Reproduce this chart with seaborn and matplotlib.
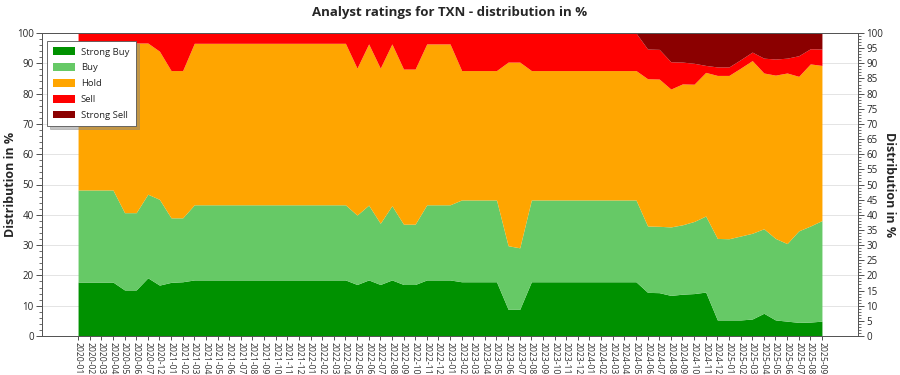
import numpy as np
import pandas as pd
import matplotlib
matplotlib.use("Agg")
import matplotlib.pyplot as plt
from matplotlib.ticker import MultipleLocator
import seaborn as sns

months = (["2020-01", "2020-02", "2020-03", "2020-04", "2020-05", "2020-06", "2020-07", "2020-12"]
          + [f"{y}-{m:02d}" for y in (2021, 2022, 2023, 2024) for m in range(1, 13)]
          + [f"2025-{m:02d}" for m in range(1, 10)])

strong_buy = ([17.8] * 4 + [15.2, 15.2, 19.2, 16.8, 17.7, 17.9] + [18.5] * 14
              + [17.0, 18.5, 17.0, 18.5, 17.0, 17.0, 18.5, 18.5, 18.5]
              + [17.9] * 4 + [8.8, 8.8] + [17.9] * 10
              + [14.4, 14.3, 13.4, 13.8, 14.0, 14.5, 5.3, 5.3, 5.3, 5.6, 7.5, 5.3, 4.9, 4.5, 4.6, 4.9])
buy = ([30.4] * 4 + [25.5, 25.5, 27.6, 28.3, 21.3, 21.1] + [24.8] * 14
       + [22.9, 24.7, 20.2, 24.5, 19.9, 19.9, 24.8, 24.8, 24.8]
       + [27.0] * 4 + [21.0, 20.3] + [27.0] * 10
       + [21.9, 21.9, 22.6, 22.9, 23.8, 25.1, 26.9, 26.8, 27.7, 28.3, 27.9, 26.9, 25.6, 30.2, 31.7, 33.2])
hold = ([48.5] * 4 + [56.0, 56.0, 49.9, 48.9, 48.6, 48.6] + [53.3] * 14
        + [48.5, 53.2, 51.2, 53.4, 51.2, 51.2, 53.1, 53.1, 53.1]
        + [42.7] * 4 + [60.6, 61.3] + [42.7] * 10
        + [48.6, 48.6, 45.5, 46.5, 45.3, 47.4, 53.8, 53.9, 55.4, 57.0, 51.4, 53.9, 56.3, 51.0, 53.5, 51.2])
sell = ([3.3] * 4 + [3.3, 3.3, 3.3, 6.0, 12.4, 12.4] + [3.4] * 14
        + [11.6, 3.6, 11.6, 3.6, 11.9, 11.9, 3.6, 3.6, 3.6]
        + [12.4] * 4 + [9.6, 9.6] + [12.4] * 10
        + [9.8, 9.8, 9.0, 7.2, 6.9, 2.3, 2.8, 2.8, 2.8, 2.8, 4.9, 5.3, 4.9, 6.8, 5.0, 5.4])
strong_sell = ([0.0] * 49
               + [5.3, 5.4, 9.5, 9.6, 10.0, 10.7, 11.2, 11.2, 8.8, 6.3, 8.3, 8.6, 8.3, 7.5, 5.2, 5.3])

series_names = ["Strong Buy", "Buy", "Hold", "Sell", "Strong Sell"]
series_colors = ["#009100", "#66c966", "#ffa500", "#ff0000", "#8b0000"]

df = pd.DataFrame({"month": months, "Strong Buy": strong_buy, "Buy": buy, "Hold": hold,
                   "Sell": sell, "Strong Sell": strong_sell})

sns.set_theme(style="white")
plt.rcParams["font.family"] = ["Open Sans", "DejaVu Sans"]

fig = plt.figure(figsize=(9, 3.75), dpi=100)
ax = fig.add_axes([0.0467, 0.104, 0.9066, 0.808])

x = np.arange(len(df))
ax.stackplot(x, *[df[n].values for n in series_names], colors=series_colors,
             labels=series_names, linewidth=0)

ax.set_xlim(-3.1, len(df) - 1 + 3.1)
ax.set_ylim(0, 100)
ax.set_xticks(x)
ax.set_xticklabels(df["month"], rotation=270, fontsize=6.2, color="#333333")
ax.tick_params(axis="x", length=3, width=0.6, pad=1, bottom=True, color="#333333")
ax.yaxis.set_major_locator(MultipleLocator(10))
ax.yaxis.set_minor_locator(MultipleLocator(2))
ax.tick_params(axis="y", which="major", labelsize=7, length=4, width=0.6, pad=2, left=True, color="#333333")
ax.tick_params(axis="y", which="minor", length=2, width=0.5, left=True, color="#333333")
ax.grid(axis="y", color="#e4e4e4", linewidth=0.7)
ax.set_axisbelow(True)
for s in ax.spines.values():
    s.set_color("#555555")
    s.set_linewidth(0.7)
ax.set_ylabel("Distribution in %", fontsize=9, fontweight="bold")
ax.yaxis.set_label_coords(-0.031, 0.5)

ax2 = ax.twinx()
ax2.set_ylim(0, 100)
ax2.yaxis.set_major_locator(MultipleLocator(5))
ax2.yaxis.set_minor_locator(MultipleLocator(1))
ax2.tick_params(axis="y", which="major", labelsize=7, length=4, width=0.6, pad=2, right=True, color="#333333")
ax2.tick_params(axis="y", which="minor", length=2, width=0.5, right=True, color="#333333")
ax2.grid(False)
for s in ax2.spines.values():
    s.set_color("#555555")
    s.set_linewidth(0.7)
ax2.set_ylabel("Distribution in %", fontsize=9, fontweight="bold", rotation=270, va="bottom")
ax2.yaxis.set_label_coords(1.031, 0.5)

fig.suptitle("Analyst ratings for TXN - distribution in %", fontsize=9.5, fontweight="bold", y=0.985)

leg = ax.legend(loc="upper left", bbox_to_anchor=(0.0, 0.99), fontsize=6.8, frameon=True,
                fancybox=False, shadow={"ox": 2, "oy": -2, "color": "#888888"}, borderpad=0.7,
                labelspacing=0.7, handlelength=2.3, handleheight=0.9, handletextpad=0.6)
leg.get_frame().set_edgecolor("#555555")
leg.get_frame().set_linewidth(0.6)

fig.savefig("out.png", dpi=100)
